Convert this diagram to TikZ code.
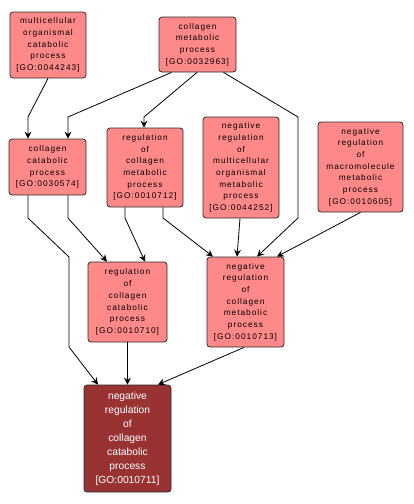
\documentclass[tikz,border=0pt]{standalone}
\usepackage{fontspec}
\setmainfont{Liberation Sans}
\usetikzlibrary{arrows.meta}
\definecolor{goterm}{HTML}{FF8888}
\definecolor{gofocus}{HTML}{993333}
\definecolor{goframe}{HTML}{2B2B2B}

\tikzset{
  gobox/.style={draw=goframe, fill=goterm, thick, rounded corners=3pt, align=center,
    inner sep=0pt, font=\fontsize{8.3}{11.7}\selectfont\addfontfeatures{LetterSpace=12}},
  focusbox/.style={gobox, fill=gofocus, text=white, font=\fontsize{10.3}{14}\selectfont},
  isa/.style={draw=black, line width=0.8pt, -{Stealth[length=7pt,width=7pt,inset=2.5pt]}}
}

\begin{document}
\begin{tikzpicture}[x=1pt,y=-1pt]
  \useasboundingbox (0,0) rectangle (414,504);

  % Top row
  \node[gobox, minimum width=76, minimum height=66] (mcat) at (48,45)
    {multicellular\\organismal\\catabolic\\process\\{}[GO:0044243]};
  \node[gobox, minimum width=77, minimum height=55] (colmet) at (197.5,44.5)
    {collagen\\metabolic\\process\\{}[GO:0032963]};

  % Second row
  \node[gobox, minimum width=77, minimum height=56] (colcat) at (47.5,167)
    {collagen\\catabolic\\process\\{}[GO:0030574]};
  \node[gobox, minimum width=76, minimum height=79] (regmet) at (145,167.5)
    {regulation\\of\\collagen\\metabolic\\process\\{}[GO:0010712]};
  \node[gobox, minimum width=76, minimum height=101] (negmulti) at (241,167.5)
    {negative\\regulation\\of\\multicellular\\organismal\\metabolic\\process\\{}[GO:0044252]};
  \node[gobox, minimum width=85, minimum height=90] (negmacro) at (360.5,167)
    {negative\\regulation\\of\\macromolecule\\metabolic\\process\\{}[GO:0010605]};

  % Third row
  \node[gobox, minimum width=79, minimum height=80] (regcat) at (127.5,302)
    {regulation\\of\\collagen\\catabolic\\process\\{}[GO:0010710]};
  \node[gobox, minimum width=77, minimum height=90] (negmet) at (245.5,302)
    {negative\\regulation\\of\\collagen\\metabolic\\process\\{}[GO:0010713]};

  % Queried term
  \node[focusbox, minimum width=87, minimum height=107] (negcat) at (127.5,438.5)
    {negative\\regulation\\of\\collagen\\catabolic\\process\\{}[GO:0010711]};

  % Edges
  \draw[isa] (mcat.south) -- (28,117) -- ([xshift=-19.5]colcat.north);
  \draw[isa] ([xshift=-26]colmet.south) -- (68,117) -- ([xshift=20.5]colcat.north);
  \draw[isa] ([xshift=-0.5]colmet.south) -- (144,117) -- ([xshift=-1]regmet.north);
  \draw[isa] ([xshift=26]colmet.south) -- (298,117) -- (298,218) -- ([xshift=11.5]negmet.north);
  \draw[isa] ([xshift=-19.5]colcat.south) -- (28,218) -- (69,257) -- (69,347) -- ([xshift=-29.5]negcat.north);
  \draw[isa] ([xshift=20.5]colcat.south) -- (68,218) -- ([xshift=-20.5]regcat.north);
  \draw[isa] ([xshift=-20]regmet.south) -- (125,218) -- ([xshift=17.5]regcat.north);
  \draw[isa] ([xshift=18]regmet.south) -- (163,218) -- ([xshift=-32.5]negmet.north);
  \draw[isa] ([xshift=-1]negmulti.south) -- ([xshift=-8.5]negmet.north);
  \draw[isa] (negmacro.south) -- ([xshift=31.5]negmet.north);
  \draw[isa] (regcat.south) -- (negcat.north);
  \draw[isa] ([xshift=-1.5]negmet.south) -- ([xshift=30.5]negcat.north);
\end{tikzpicture}
\end{document}
